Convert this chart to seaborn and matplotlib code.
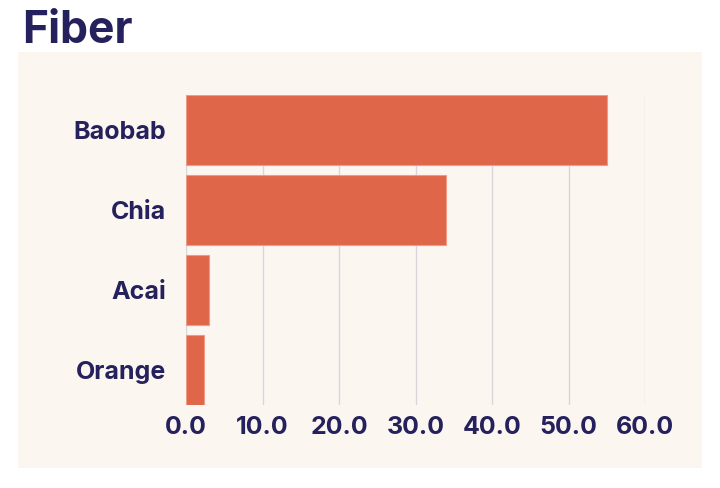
import matplotlib
matplotlib.use("Agg")
import matplotlib.pyplot as plt
import seaborn as sns
import pandas as pd
from matplotlib.patches import Rectangle

categories = ["Baobab", "Chia", "Acai", "Orange"]
values = [55.0, 34.0, 3.0, 2.4]
xticks = [0, 10, 20, 30, 40, 50, 60]
xtick_labels = ["0.0", "10.0", "20.0", "30.0", "40.0", "50.0", "60.0"]

navy = "#25215c"
bar_color = "#e0664a"
panel = "#fcf6f1"
grid = "#d9d5dd"

sns.set_theme(style="white")
plt.rcParams["font.family"] = ["Inter", "DejaVu Sans"]

df = pd.DataFrame({"fruit": categories, "fiber": values})

W, H = 720, 488
fig = plt.figure(figsize=(W / 100, H / 100), dpi=100)
fig.patch.set_facecolor("white")
fig.patches.append(Rectangle((18 / W, 1 - 468 / H), 684 / W, 416 / H,
                             transform=fig.transFigure, facecolor=panel,
                             edgecolor="none", zorder=-5))

ax = fig.add_axes([186 / W, 1 - 405 / H, (645 - 186) / W, 310 / H])
ax.set_zorder(2)
ax.set_facecolor("none")
sns.barplot(data=df, x="fiber", y="fruit", orient="h", color=bar_color,
            width=0.875, saturation=1, edgecolor="#f09a84", linewidth=0.8,
            ax=ax, zorder=3)

ax.set_xlim(0, 60)
ax.set_ylim(3.4375, -0.4375)
ax.set_xticks(xticks)
ax.set_xticklabels(xtick_labels)
ax.grid(axis="x", color=grid, linewidth=1, zorder=0)
ax.grid(axis="y", visible=False)
ax.set_axisbelow(True)
for s in ax.spines.values():
    s.set_visible(False)
ax.tick_params(axis="both", length=0, labelcolor=navy, labelsize=18)
ax.tick_params(axis="y", pad=14)
ax.tick_params(axis="x", pad=8)
for lab in ax.get_xticklabels() + ax.get_yticklabels():
    lab.set_fontweight("bold")
ax.set_xlabel("")
ax.set_ylabel("")

fig.text(22 / W, 1 - 43 / H, "Fiber", fontsize=32, fontweight="bold",
         color=navy, va="baseline", ha="left")

fig.savefig("out.png", dpi=100)
